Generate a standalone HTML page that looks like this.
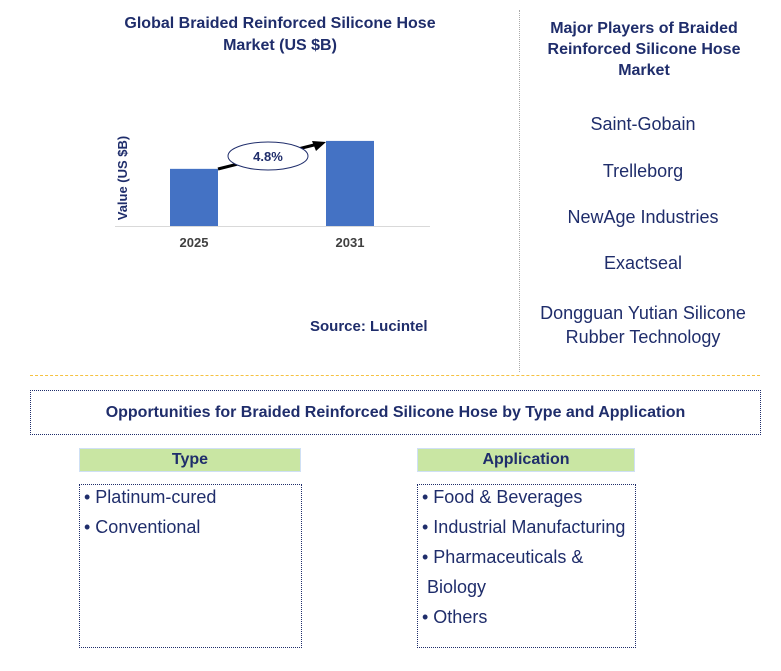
<!DOCTYPE html>
<html><head><meta charset="utf-8"><style>
body{margin:0;width:781px;height:671px;background:#fff;font-family:"Liberation Sans",Arial,sans-serif;position:relative;overflow:hidden}
.a{position:absolute}
.t{color:#1f2d6b;font-weight:bold}
.pl{color:#1f2d6b;font-size:18px;text-align:center;width:250px;left:518px}
.hd{background:#c9e6a3;border:1px solid #cfe0f5;text-align:center;font-weight:bold;color:#1f2d6b;font-size:16px;line-height:22px}
.bx{border:1px dotted #1f2d6b}
.li{color:#1f2d6b;font-size:18px;line-height:30px;padding-left:4px;margin-top:-3px}
</style></head><body>
<div class="a t" style="left:110px;top:13px;width:340px;text-align:center;font-size:16px;line-height:22px">Global Braided Reinforced Silicone Hose<br>Market (US $B)</div>
<svg class="a" style="left:0;top:0" width="520" height="360">
<text x="127" y="178" transform="rotate(-90 127 178)" text-anchor="middle" font-size="13" font-weight="bold" fill="#1f2d6b">Value (US $B)</text>
<g id="bars"></g>
<line x1="115" y1="226.5" x2="430" y2="226.5" stroke="#d9d9d9" stroke-width="1"/>
<line x1="218" y1="169" x2="318" y2="144" stroke="#000" stroke-width="3"/>
<polygon points="326,142 312,141 316,151" fill="#000"/>
<ellipse cx="268" cy="156" rx="40" ry="14" fill="#fff" stroke="#1f2d6b"/>
<text x="268" y="161" text-anchor="middle" font-size="13" font-weight="bold" fill="#1f2d6b">4.8%</text>
</svg>
<div class="a t" style="left:310px;top:318px;font-size:15px">Source: Lucintel</div>
<div class="a" style="left:519px;top:10px;height:362px;border-left:1px dotted #aaa"></div>
<div class="a" style="left:30px;top:375px;width:730px;border-top:1px dashed #f5c242"></div>
<div class="a t" style="left:530px;top:18px;width:228px;text-align:center;font-size:16px;line-height:21px">Major Players of Braided Reinforced Silicone Hose Market</div>
<div class="a pl" style="top:114px">Saint-Gobain</div>
<div class="a pl" style="top:161px">Trelleborg</div>
<div class="a pl" style="top:207px">NewAge Industries</div>
<div class="a pl" style="top:253px">Exactseal</div>
<div class="a pl" style="top:301px;line-height:24px">Dongguan Yutian Silicone Rubber Technology</div>
<div class="a bx t" style="left:30px;top:390px;width:729px;height:43px;line-height:43px;text-align:center;font-size:16px">Opportunities for Braided Reinforced Silicone Hose by Type and Application</div>
<div class="a hd" style="left:79px;top:448px;width:220px">Type</div>
<div class="a bx" style="left:79px;top:484px;width:221px;height:162px"><div class="li">• Platinum-cured<br>• Conventional</div></div>
<div class="a hd" style="left:417px;top:448px;width:216px">Application</div>
<div class="a bx" style="left:417px;top:484px;width:217px;height:162px"><div class="li">• Food &amp; Beverages<br>• Industrial Manufacturing<br>• Pharmaceuticals &amp;<br>&nbsp;Biology<br>• Others</div></div>
<script>
const categories=["2025","2031"];
const values=[0.90,1.34];
const y0=226,scale=63.5,xs=[194,350],bw=48;
const g=document.getElementById('bars');
const ns="http://www.w3.org/2000/svg";
categories.forEach((c,i)=>{
 const h=values[i]*scale;
 const r=document.createElementNS(ns,'rect');
 
 
 r.setAttribute('x',xs[i]-bw/2);r.setAttribute('y',y0-h);r.setAttribute('width',bw);r.setAttribute('height',h);r.setAttribute('fill','#4472c4');
 g.appendChild(r);
 const t=document.createElementNS(ns,'text');
 
 
 t.setAttribute('x',xs[i]);t.setAttribute('y',247);t.setAttribute('text-anchor','middle');t.setAttribute('font-size','13');t.setAttribute('font-weight','bold');t.setAttribute('fill','#404040');
 t.textContent=c;g.appendChild(t);
});
</script>
</body></html>
